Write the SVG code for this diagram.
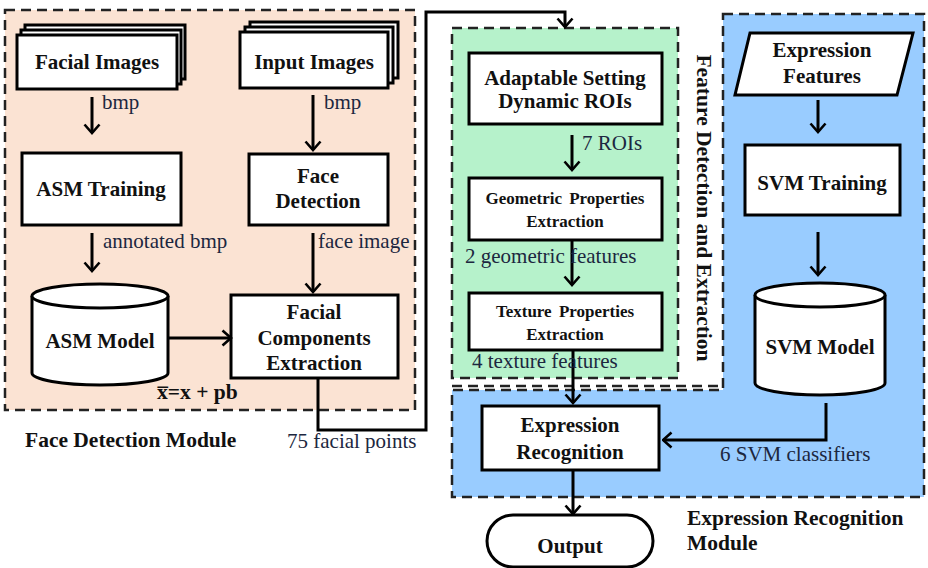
<svg xmlns="http://www.w3.org/2000/svg" width="928" height="568" viewBox="0 0 928 568">
<defs>
<marker id="ar" viewBox="-2 -2 12 19" refX="8.5" refY="7.5" markerWidth="12" markerHeight="19" markerUnits="userSpaceOnUse" orient="auto">
<path d="M0,0 L8.5,7.5 L0,15" fill="none" stroke="#000" stroke-width="2.6"/>
</marker>
<style>
.dash{stroke:#222;stroke-width:2.5;stroke-dasharray:10 6}
.box{fill:#fff;stroke:#000;stroke-width:3}
.c{fill:none;stroke:#000;stroke-width:3}
.n{font-family:"Liberation Serif","Times New Roman",serif;font-weight:bold;font-size:21px;text-anchor:middle;fill:#111}
.s{font-family:"Liberation Serif","Times New Roman",serif;font-weight:bold;font-size:17px;text-anchor:middle;fill:#111;word-spacing:3px}
.l{font-family:"Liberation Serif","Times New Roman",serif;font-size:21px;fill:#1c2740}
.t{font-family:"Liberation Serif","Times New Roman",serif;font-weight:bold;font-size:21.5px;fill:#111}
</style>
</defs>
<rect width="928" height="568" fill="#fff"/>

<!-- module panels -->
<g id="face-detection-module">
<rect x="5" y="10" width="410" height="400" fill="#fbe3d3" class="dash"/>
<text class="t" x="25" y="447">Face Detection Module</text>
</g>
<g id="expression-recognition-module">
<path d="M723,14 H924 V497 H452 V390 H723 Z" fill="#99ccff" class="dash"/>
<text class="t" x="687" y="525">Expression Recognition</text>
<text class="t" x="687" y="550">Module</text>
</g>
<g id="feature-detection-module">
<path d="M452,386 H723" fill="none" class="dash"/>
<rect x="452" y="28" width="226" height="350" fill="#b6f2cb" class="dash"/>
<text class="t" transform="translate(697,208) rotate(90)" text-anchor="middle">Feature Detection and Extraction</text>
</g>

<!-- nodes -->
<g id="facial-images">
<rect x="25" y="25" width="160" height="54" class="box"/>
<rect x="21" y="30" width="160" height="54" class="box"/>
<rect x="17" y="35" width="160" height="54" class="box"/>
<text class="n" x="97" y="69">Facial Images</text>
</g>
<g id="input-images">
<rect x="250" y="22" width="148" height="56" class="box"/>
<rect x="245" y="27" width="148" height="56" class="box"/>
<rect x="240" y="32" width="148" height="56" class="box"/>
<text class="n" x="314" y="69">Input Images</text>
</g>
<g id="asm-training">
<rect x="22" y="153" width="159" height="72" class="box"/>
<text class="n" x="101" y="196">ASM Training</text>
</g>
<g id="face-detection">
<rect x="249" y="154" width="139" height="71" class="box"/>
<text class="n" x="318" y="183">Face</text>
<text class="n" x="318" y="208">Detection</text>
</g>
<g id="asm-model">
<path d="M32,296 V373 A68,12 0 0 0 168,373 V296" class="box"/>
<ellipse cx="100" cy="296" rx="68" ry="12" class="box"/>
<text class="n" x="100" y="348">ASM Model</text>
<text class="t" x="157" y="399" font-size="20">x&#x0305;=x + pb</text>
</g>
<g id="facial-components-extraction">
<rect x="231" y="295" width="167" height="83" class="box"/>
<text class="n" x="314" y="319">Facial</text>
<text class="n" x="314" y="345">Components</text>
<text class="n" x="314" y="370">Extraction</text>
</g>
<g id="adaptable-setting">
<rect x="469" y="53" width="193" height="71" class="box"/>
<text class="n" x="565" y="85">Adaptable Setting</text>
<text class="n" x="565" y="108">Dynamic ROIs</text>
</g>
<g id="geometric-properties">
<rect x="469" y="178" width="193" height="62" class="box"/>
<text class="s" x="565" y="204">Geometric Properties</text>
<text class="s" x="565" y="227">Extraction</text>
</g>
<g id="texture-properties">
<rect x="469" y="293" width="193" height="57" class="box"/>
<text class="s" x="565" y="317">Texture Properties</text>
<text class="s" x="565" y="340">Extraction</text>
</g>
<g id="expression-features">
<path d="M750,33 H913 L897,95 H735 Z" class="box"/>
<text class="n" x="822" y="57">Expression</text>
<text class="n" x="822" y="83">Features</text>
</g>
<g id="svm-training">
<rect x="745" y="145" width="155" height="70" class="box"/>
<text class="n" x="822" y="190">SVM Training</text>
</g>
<g id="svm-model">
<path d="M755,295 V383 A65,12 0 0 0 885,383 V295" class="box"/>
<ellipse cx="820" cy="295" rx="65" ry="12" class="box"/>
<text class="n" x="820" y="354">SVM Model</text>
</g>
<g id="expression-recognition">
<rect x="482" y="406" width="177" height="64" class="box"/>
<text class="n" x="570" y="432">Expression</text>
<text class="n" x="570" y="459">Recognition</text>
</g>
<g id="output">
<rect x="487" y="515" width="166" height="52" rx="26" ry="26" class="box"/>
<text class="n" x="570" y="553">Output</text>
</g>

<!-- connectors -->
<g id="connectors">
<path d="M92,97 V133" class="c" marker-end="url(#ar)"/>
<path d="M313,95 V150" class="c" marker-end="url(#ar)"/>
<path d="M92,233 V271" class="c" marker-end="url(#ar)"/>
<path d="M313,233 V292" class="c" marker-end="url(#ar)"/>
<path d="M168,338 H231" class="c" marker-end="url(#ar)"/>
<path d="M318,378 V430 H426 V12 H565 V27" class="c" marker-end="url(#ar)"/>
<path d="M572,135 V170" class="c" marker-end="url(#ar)"/>
<path d="M572,240 V285" class="c" marker-end="url(#ar)"/>
<path d="M573,350 V403" class="c" marker-end="url(#ar)"/>
<path d="M818,100 V132" class="c" marker-end="url(#ar)"/>
<path d="M818,232 V275" class="c" marker-end="url(#ar)"/>
<path d="M826,403 V440 H663" class="c" marker-end="url(#ar)"/>
<path d="M573,470 V514" class="c" marker-end="url(#ar)"/>
<text class="l" x="102" y="109">bmp</text>
<text class="l" x="324" y="109">bmp</text>
<text class="l" x="103" y="248">annotated bmp</text>
<text class="l" x="318" y="248">face image</text>
<text class="l" x="287" y="448">75 facial points</text>
<text class="l" x="582" y="150">7 ROIs</text>
<text class="l" x="465" y="263">2 geometric features</text>
<text class="l" x="472" y="368">4 texture features</text>
<text class="l" x="720" y="461">6 SVM classifiers</text>
</g>
</svg>
